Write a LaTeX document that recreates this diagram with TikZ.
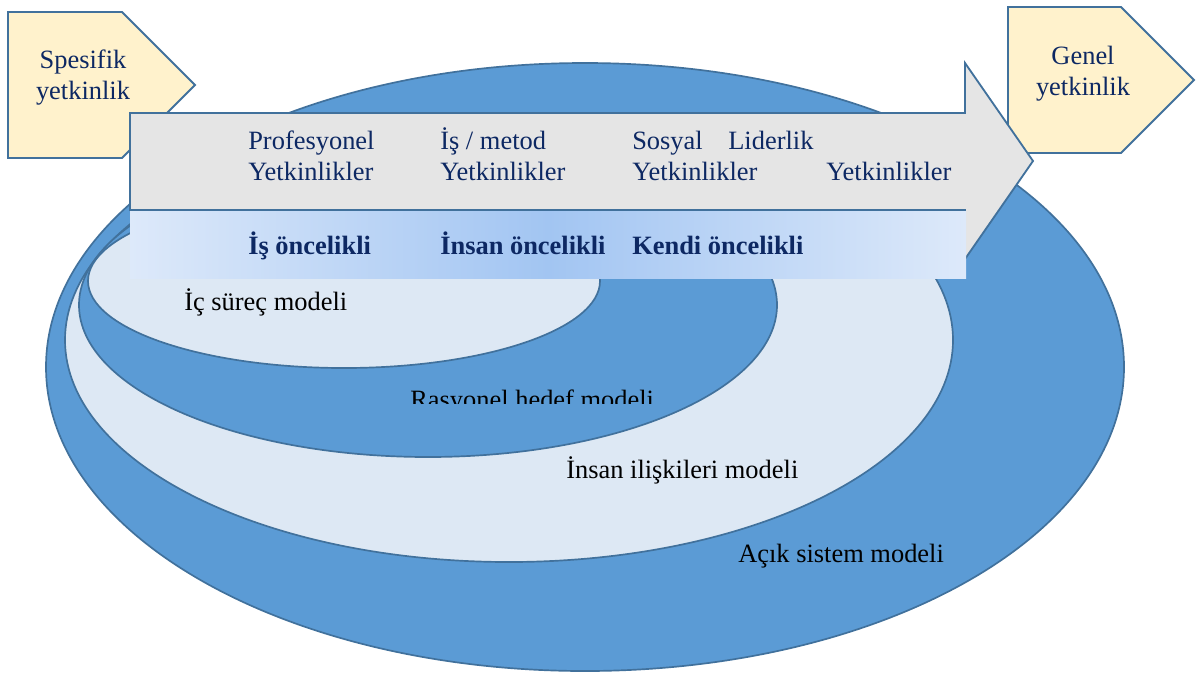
\documentclass[tikz,border=0pt]{standalone}
\usepackage{fontspec}
\setmainfont{Liberation Serif}
\definecolor{ovalblue}{HTML}{5B9BD5}
\definecolor{ovallight}{HTML}{DDE8F4}
\definecolor{edgeblue}{HTML}{41719C}
\definecolor{arrowgray}{HTML}{E5E5E5}
\definecolor{tagcream}{HTML}{FFF2CC}
\definecolor{navytext}{HTML}{0D2863}
\definecolor{bandlight}{HTML}{DDE9FA}
\definecolor{bandmid}{HTML}{A2C5F2}

\begin{document}
\begin{tikzpicture}[x=0.025cm,y=-0.025cm,
    blueoval/.style={fill=ovalblue,draw=edgeblue,line width=1.2pt},
    lightoval/.style={fill=ovallight,draw=edgeblue,line width=1.2pt},
    tag/.style={fill=tagcream,draw=edgeblue,line width=1.3pt},
    txt/.style={font=\fontsize{18.8}{22}\selectfont,inner sep=0pt},
    navy/.style={txt,text=navytext,align=left,anchor=base west},
    model/.style={txt,anchor=base west},
    prio/.style={txt,text=navytext,font=\fontsize{18.8}{22}\selectfont\bfseries,anchor=base west}]
		\useasboundingbox (0,0) rectangle (1200,673);
		%%ovals, outside in
		\draw[blueoval] (585,367) ellipse [x radius=539, y radius=304];
		\draw[lightoval] (509,340) ellipse [x radius=444, y radius=222];
		\draw[blueoval] (428,305) ellipse [x radius=349, y radius=152];
		\draw[lightoval] (344,281) ellipse [x radius=256, y radius=87];
		%%model names
		\node[model] (ic) at (184,310) {İç süreç modeli};
		\begin{scope}
			\clip (380,370) rectangle (700,403);
			\node[model] (rasyonel) at (410,408) {Rasyonel hedef modeli};
		\end{scope}
		\node[model] (insan) at (566,478) {İnsan ilişkileri modeli};
		\node[model] (acik) at (738,562) {Açık sistem modeli};
		%%tags (base = last line)
		\draw[tag] (8,12) -- (122,12) -- (195,85) -- (122,158) -- (8,158) -- cycle;
		\node[txt,text=navytext,align=center,anchor=base] (spesifik) at (83,99) {Spesifik\\yetkinlik};
		\draw[tag] (1008,7) -- (1121,7) -- (1194,80) -- (1121,153) -- (1008,153) -- cycle;
		\node[txt,text=navytext,align=center,anchor=base] (genel) at (1083,95) {Genel\\yetkinlik};
		%%big arrow
		\draw[fill=arrowgray,draw=edgeblue,line width=1.3pt] (130,113) -- (965,113) -- (965,63) -- (1033,161) -- (965,259) -- (965,210) -- (130,210) -- cycle;
		\fill[left color=bandlight,right color=bandlight,middle color=bandmid] (130,211) rectangle (966,278);
		%%competences
		\node[navy] (prof) at (248,180) {Profesyonel\\Yetkinlikler};
		\node[navy] (metod) at (440,180) {İş / metod\\Yetkinlikler};
		\node[navy] (sosyal) at (632,180) {Sosyal\\Yetkinlikler};
		\node[navy] (lider) at (728,149) {Liderlik};
		\node[navy] (lideryet) at (826,180) {Yetkinlikler};
		%%priorities
		\node[prio] (is) at (248,254) {İş öncelikli};
		\node[prio] (insanonc) at (440,254) {İnsan öncelikli};
		\node[prio] (kendi) at (632,254) {Kendi öncelikli};
	\end{tikzpicture}
\end{document}
